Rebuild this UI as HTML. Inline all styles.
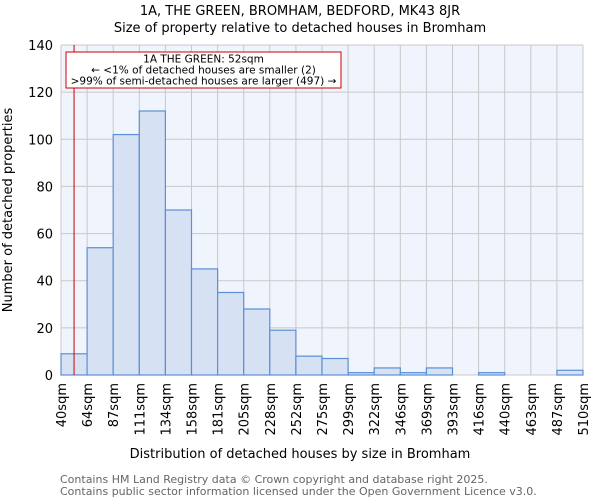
<!DOCTYPE html>
<html><head><meta charset="utf-8"><style>
body{margin:0;background:#fff;font-family:"DejaVu Sans","Liberation Sans",sans-serif;}
</style></head><body>
<svg id="c" width="600" height="500" xmlns="http://www.w3.org/2000/svg">
<text x="300" y="15" text-anchor="middle" font-size="13">1A, THE GREEN, BROMHAM, BEDFORD, MK43 8JR</text>
<text x="300" y="32" text-anchor="middle" font-size="13">Size of property relative to detached houses in Bromham</text>
<rect x="61" y="45" width="522" height="330" fill="#f0f4fc"/>
<g id="grid"></g><g id="bars"></g><g id="axes"></g>
<text x="300" y="458" text-anchor="middle" font-size="13">Distribution of detached houses by size in Bromham</text>
<text transform="translate(12,210) rotate(-90)" text-anchor="middle" font-size="13">Number of detached properties</text>
<text x="60" y="483" font-size="11" fill="#666">Contains HM Land Registry data © Crown copyright and database right 2025.</text>
<text x="60" y="495" font-size="11" fill="#666">Contains public sector information licensed under the Open Government Licence v3.0.</text>
</svg>
<script>
const binEdges=[40,64,87,111,134,158,181,205,228,252,275,299,322,346,369,393,416,440,463,487,510];
const counts=[9,54,102,112,70,45,35,28,19,8,7,1,3,1,3,0,1,0,0,2];
const yTicks=[0,20,40,60,80,100,120,140];
const propertySize=52;
const NS="http://www.w3.org/2000/svg";
const X0=61,X1=583,Y0=375,Y1=45;
const nb=counts.length;
const bx=i=>X0+(X1-X0)*i/nb;
const sx=v=>{for(let i=0;i<binEdges.length-1;i++){if(v<=binEdges[i+1])return bx(i)+(v-binEdges[i])/(binEdges[i+1]-binEdges[i])*(bx(i+1)-bx(i));}return X1;};
const sy=v=>Y0-(v-yTicks[0])/(yTicks[yTicks.length-1]-yTicks[0])*(Y0-Y1);
function mk(p,tag,a){const e=document.createElementNS(NS,tag);for(const k in a)e.setAttribute(k,a[k]);p.appendChild(e);return e;}
const g=document.getElementById('grid'),b=document.getElementById('bars'),ax=document.getElementById('axes');
yTicks.forEach(t=>{const l=mk(g,'line',{x1:X0,x2:X1,y1:sy(t),y2:sy(t),stroke:'#c8c8c8'});


const tx=mk(ax,'text',{x:X0-8,y:sy(t)+5,'text-anchor':'end','font-size':13});tx.textContent=t;

});
binEdges.forEach((e,i)=>{const l=mk(g,'line',{x1:bx(i),x2:bx(i),y1:Y1,y2:Y0,stroke:'#c8c8c8'});


const x=bx(i);const tx=mk(ax,'text',{transform:`translate(${x+5},${Y0+8}) rotate(-90)`,'text-anchor':'end','font-size':13});tx.textContent=e+'sqm';

});
counts.forEach((c,i)=>{if(c<=0)return;const r=mk(b,'rect',{x:bx(i),y:sy(c),width:bx(i+1)-bx(i),height:Y0-sy(c),fill:'#d6e1f4',stroke:'#5b8fd6','stroke-width':1.2});

});
const pl=mk(ax,'line',{x1:sx(propertySize),x2:sx(propertySize),y1:Y1,y2:Y0,stroke:'#cc0000','stroke-width':1});


const bxr=mk(ax,'rect',{x:66,y:52,width:275,height:36,fill:'#fff',stroke:'#cc0000'});


["1A THE GREEN: 52sqm","← <1% of detached houses are smaller (2)",">99% of semi-detached houses are larger (497) →"].forEach((s,i)=>{const t=mk(ax,'text',{x:203.5,y:62.5+i*11,'text-anchor':'middle','font-size':10.5});t.textContent=s;

});
</script>
</body></html>
